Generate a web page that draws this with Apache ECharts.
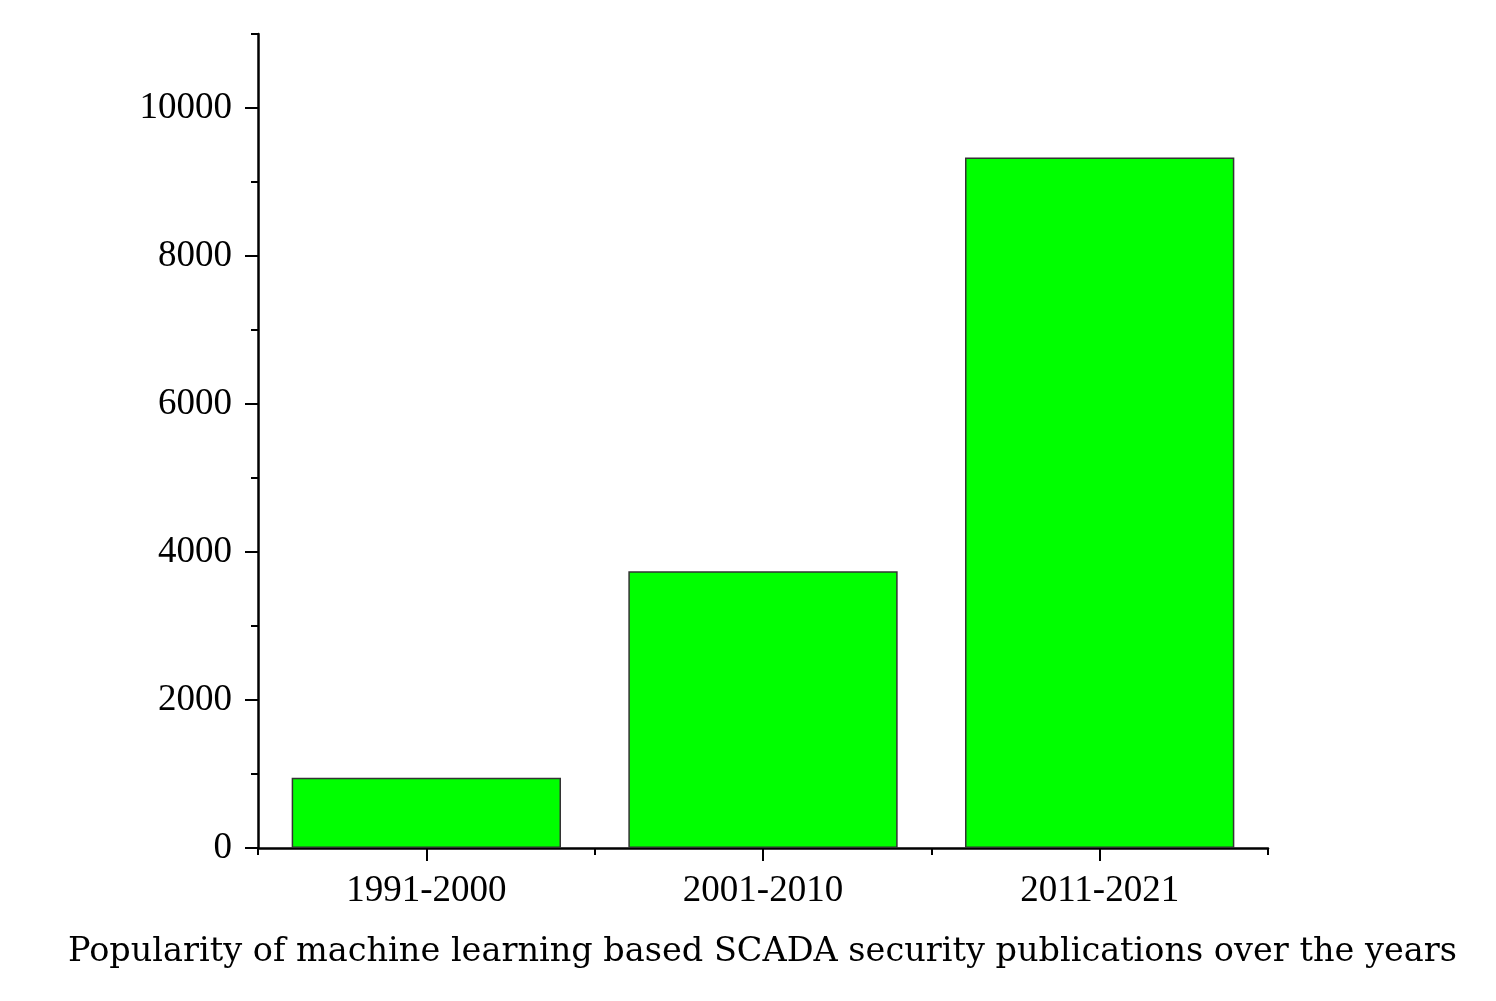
<!DOCTYPE html>
<html><head><meta charset="utf-8">
<script src="https://cdn.jsdelivr.net/npm/echarts@6/dist/echarts.min.js"></script>
<style>html,body{margin:0;padding:0;background:#fff}#c{width:1496px;height:1001px}</style>
</head><body><div id="c"></div>
<script>
const categories = ['1991-2000', '2001-2010', '2011-2021'];
const publications = [950, 3740, 9330];
const yMajorTicks = [0, 2000, 4000, 6000, 8000, 10000];
const yMinorTicks = [1000, 3000, 5000, 7000, 9000, 11000];
const caption = 'Popularity of machine learning based SCADA security publications over the years';

const FONT = 'Liberation Serif';
const chart = echarts.init(document.getElementById('c'));
chart.setOption({
  animation: false,
  title: {
    text: caption, left: 63, top: 930,
    textStyle: { fontFamily: 'DejaVu Serif', fontSize: 33.5, fontWeight: 'normal', color: '#000' }
  },
  grid: { left: 258, right: 228, top: 34, bottom: 153, containLabel: false },
  xAxis: [{
    type: 'category', data: categories, position: 'bottom',
    axisLine: { show: true, lineStyle: { color: '#000', width: 2.5 } },
    axisTick: { show: true, alignWithLabel: true, length: 13, lineStyle: { color: '#000', width: 2 } },
    axisLabel: { show: true, fontFamily: FONT, fontSize: 37, color: '#000', margin: 25 }
  }, {
    type: 'category', data: categories, position: 'bottom',
    axisLine: { show: false },
    axisTick: { show: true, alignWithLabel: false, length: 7, lineStyle: { color: '#000', width: 2 } },
    axisLabel: { show: false }
  }],
  yAxis: [{
    type: 'value', min: 0, max: 11000,
    axisLine: { show: true, lineStyle: { color: '#000', width: 2.5 } },
    splitLine: { show: false },
    axisTick: { show: true, length: 13, customValues: yMajorTicks, lineStyle: { color: '#000', width: 2 } },
    axisLabel: { customValues: yMajorTicks, formatter: v => String(v), fontFamily: FONT, fontSize: 37, color: '#000', margin: 26 }
  }, {
    type: 'value', min: 0, max: 11000, position: 'left',
    axisLine: { show: false }, splitLine: { show: false },
    axisTick: { show: true, length: 7, customValues: yMinorTicks, lineStyle: { color: '#000', width: 2 } },
    axisLabel: { show: false }
  }],
  series: [{
    type: 'bar', data: publications, barCategoryGap: '20%',
    itemStyle: { color: '#00ff00', borderColor: '#333', borderWidth: 1.5 }
  }]
});
</script></body></html>
